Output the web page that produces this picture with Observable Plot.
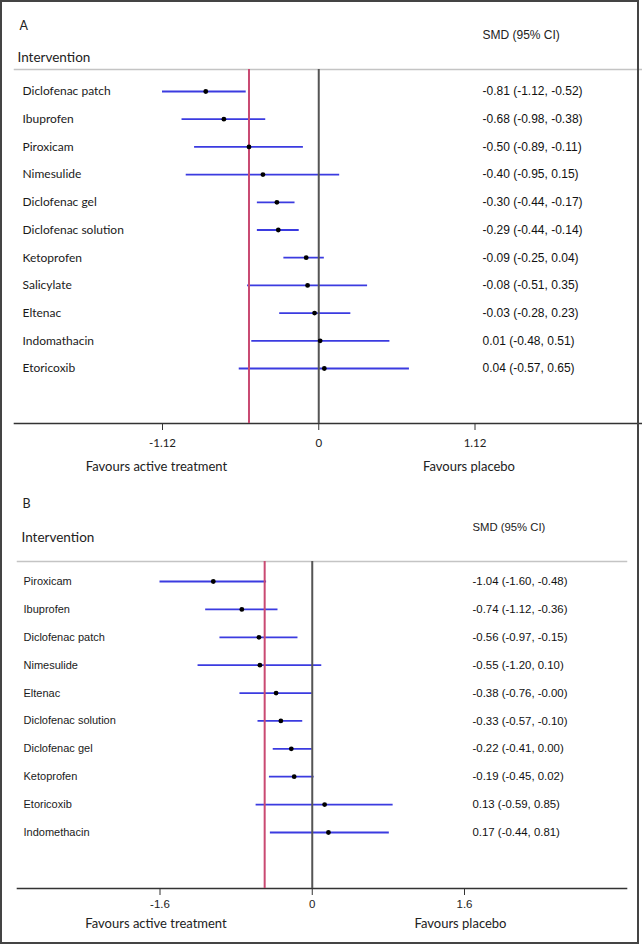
<!DOCTYPE html>
<html>
<head>
<meta charset="utf-8">
<script src="https://cdn.jsdelivr.net/npm/d3@7"></script>
<script src="https://cdn.jsdelivr.net/npm/@observablehq/plot@0.6"></script>
<style>
  html, body { margin: 0; padding: 0; background: #fff; }
  #wrap { position: relative; width: 642px; height: 944px; background: #fff; overflow: hidden; }
  #a { position: absolute; left: 0; top: 0; }
  #b { position: absolute; left: 0; top: 484px; }
  #border { position: absolute; left: 0; top: 0; width: 639px; height: 944px; border: 2px solid #444; box-sizing: border-box; pointer-events: none; }
  svg { overflow: visible; }
</style>
</head>
<body>
<div id="wrap">
  <div id="a"></div>
  <div id="b"></div>
  <div id="border"></div>
</div>
<script>
// ---------- Panel A data ----------
const namesA = ["Diclofenac patch", "Ibuprofen", "Piroxicam", "Nimesulide", "Diclofenac gel", "Diclofenac solution", "Ketoprofen", "Salicylate", "Eltenac", "Indomathacin", "Etoricoxib"];
const estA = [-0.81, -0.68, -0.50, -0.40, -0.30, -0.29, -0.09, -0.08, -0.03, 0.01, 0.04];
const loA  = [-1.12, -0.98, -0.89, -0.95, -0.44, -0.44, -0.25, -0.51, -0.28, -0.48, -0.57];
const hiA  = [-0.52, -0.38, -0.11, 0.15, -0.17, -0.14, 0.04, 0.35, 0.23, 0.51, 0.65];
const ticksA = [-1.12, 0, 1.12];
const pooledA = -0.50;

// ---------- Panel B data ----------
const namesB = ["Piroxicam", "Ibuprofen", "Diclofenac patch", "Nimesulide", "Eltenac", "Diclofenac solution", "Diclofenac gel", "Ketoprofen", "Etoricoxib", "Indomethacin"];
const estB = [-1.04, -0.74, -0.56, -0.55, -0.38, -0.33, -0.22, -0.19, 0.13, 0.17];
const loB  = [-1.60, -1.12, -0.97, -1.20, -0.76, -0.57, -0.41, -0.45, -0.59, -0.44];
const hiB  = [-0.48, -0.36, -0.15, 0.10, -0.00, -0.10, 0.00, 0.02, 0.85, 0.81];
const ticksB = [-1.6, 0, 1.6];
const pooledB = -0.50;

const sideLabels = ["Favours active treatment", "Favours placebo"];

const fmt = v => ((v < 0 || Object.is(v, -0)) ? "-" : "") + Math.abs(v).toFixed(2);
const ciText = (e, l, h) => `${fmt(e)} (${fmt(l)}, ${fmt(h)})`;

const rows = (names, est, lo, hi) => names.map((name, i) => ({name, est: est[i], lo: lo[i], hi: hi[i], label: ciText(est[i], lo[i], hi[i])}));

const dataA = rows(namesA, estA, loA, hiA);
const dataB = rows(namesB, estB, loB, hiB);

const BLUE = "#3b3be0";
const RED = "#c94a72";
const ZERO = "#555";
const HUMAN = "Lato, 'Open Sans', sans-serif";
const ARIAL = "'Liberation Sans', Arial, sans-serif";

function panel(cfg) {
  const {data, names, ticks, pooled, letter, width, height, mt, mb, ml, mr, xdom, xrange, yrange,
         labelDx, valueDx, labelFont, labelSize, valueSize, letterPos, interPos, smdPos, smdSize,
         tickPad, tickFont, tickSize, favDy, favDx} = cfg;
  return Plot.plot({
    width, height,
    marginTop: mt, marginBottom: mb, marginLeft: ml, marginRight: mr,
    x: {domain: xdom, range: xrange},
    y: {type: "point", domain: names, range: yrange, padding: 0, round: false, axis: null},
    style: {background: "transparent", color: "#222"},
    marks: [
      Plot.frame({anchor: "top", stroke: "#c4c4c4", strokeWidth: 1.5}),
      Plot.frame({anchor: "bottom", stroke: "#333", strokeWidth: 1.6}),
      Plot.ruleY(data, {y: "name", x1: "lo", x2: "hi", stroke: BLUE, strokeWidth: 1.8}),
      Plot.ruleX([pooled], {stroke: RED, strokeWidth: 2}),
      Plot.ruleX([0], {stroke: ZERO, strokeWidth: 2}),
      Plot.dot(data, {x: "est", y: "name", r: 2.4, fill: "#000", stroke: null}),
      Plot.text(data, {y: "name", text: "name", frameAnchor: "left", dx: labelDx, textAnchor: "start", lineAnchor: "middle",
        fontSize: labelSize, fontFamily: labelFont, fill: "#1a1a1a"}),
      Plot.text(data, {y: "name", text: "label", frameAnchor: "left", dx: valueDx, textAnchor: "start", lineAnchor: "middle",
        fontSize: valueSize, fontFamily: ARIAL, fill: "#111"}),
      Plot.axisX({ticks, tickFormat: d => String(d), tickSize, tickPadding: tickPad, stroke: "#333",
        fontSize: 11.5, fontFamily: tickFont, fill: "#222"}),
      Plot.text(sideLabels, {x: [ticks[0], ticks[2]], text: d => d, frameAnchor: "bottom", lineAnchor: "middle", dy: favDy, dx: favDx,
        fontSize: 13, fontFamily: HUMAN, fill: "#222"}),
      Plot.text([letter], {frameAnchor: "top-left", lineAnchor: "middle", dx: letterPos[0], dy: letterPos[1], textAnchor: "start",
        fontSize: 12.5, fontFamily: HUMAN, fill: "#222"}),
      Plot.text(["Intervention"], {frameAnchor: "top-left", lineAnchor: "middle", dx: interPos[0], dy: interPos[1], textAnchor: "start",
        fontSize: 13.5, fontFamily: HUMAN, fill: "#222"}),
      Plot.text(["SMD (95% CI)"], {frameAnchor: "top-left", lineAnchor: "middle", dx: smdPos[0], dy: smdPos[1], textAnchor: "start",
        fontSize: smdSize, fontFamily: ARIAL, fill: "#222"})
    ]
  });
}

document.getElementById("a").append(panel({
  data: dataA, names: namesA, ticks: ticksA, pooled: pooledA, letter: "A",
  width: 642, height: 484, mt: 69, mb: 61, ml: 14, mr: 0,
  xdom: [-1.12, 1.12], xrange: [162, 474.5], yrange: [91, 368],
  labelDx: 8, valueDx: 468, labelFont: HUMAN, labelSize: 12, valueSize: 12,
  letterPos: [5, -44], interPos: [3, -12], smdPos: [468, -34], smdSize: 12,
  tickPad: 8, tickFont: HUMAN, tickSize: 7, favDy: 43, favDx: -6
}));

document.getElementById("b").append(panel({
  data: dataB, names: namesB, ticks: ticksB, pooled: pooledB, letter: "B",
  width: 642, height: 460, mt: 77, mb: 56, ml: 17, mr: 16,
  xdom: [-1.6, 1.6], xrange: [159.5, 464], yrange: [97, 348],
  labelDx: 6, valueDx: 455, labelFont: ARIAL, labelSize: 11, valueSize: 11.4,
  letterPos: [5, -58], interPos: [4, -24], smdPos: [455, -34], smdSize: 11.3,
  tickPad: 4, tickFont: ARIAL, tickSize: 7, favDy: 35, favDx: -4
}));
</script>
</body>
</html>
